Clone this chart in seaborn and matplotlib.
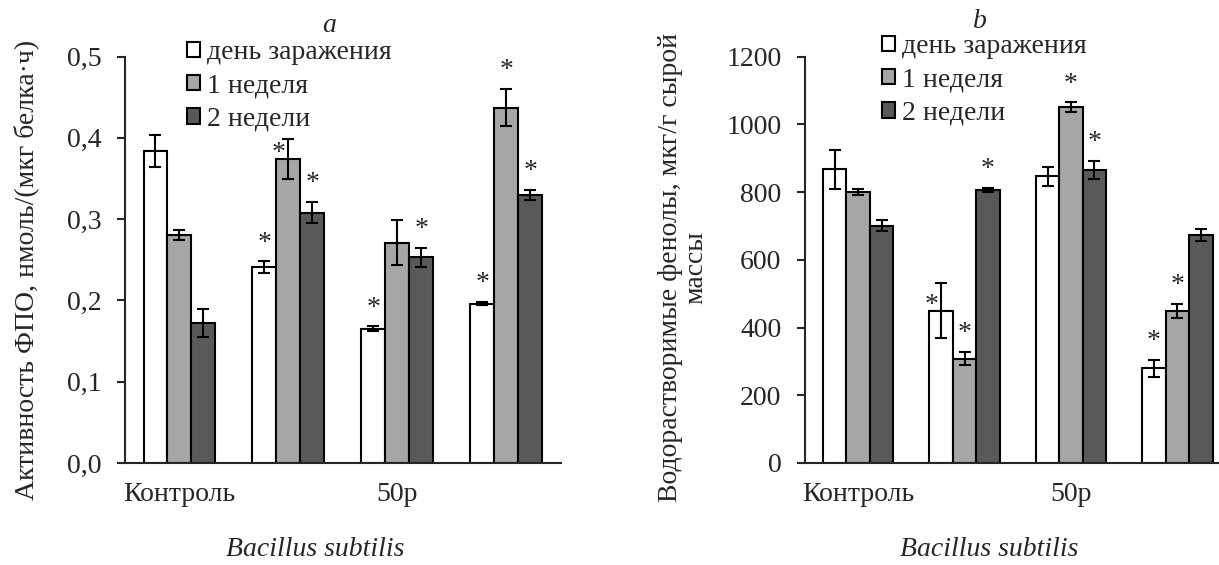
import numpy as np
import pandas as pd
import matplotlib
matplotlib.use("Agg")
import matplotlib.pyplot as plt
import seaborn as sns

# data
groups = ["g1", "g2", "g3", "g4"]
tick_labels = ["Контроль", "", "50р", ""]
periods = ["день заражения", "1 неделя", "2 недели"]

# panel a: activity (нмоль/(мкг белка·ч))
a_day0 = [0.384, 0.241, 0.165, 0.196]
a_week1 = [0.280, 0.374, 0.271, 0.437]
a_week2 = [0.172, 0.308, 0.253, 0.330]
a_err_day0 = [0.020, 0.007, 0.003, 0.002]
a_err_week1 = [0.006, 0.025, 0.028, 0.023]
a_err_week2 = [0.017, 0.013, 0.012, 0.006]
a_star_day0 = [False, True, True, True]
a_star_week1 = [False, True, False, True]
a_star_week2 = [False, True, True, True]

# panel b: phenols (мкг/г сырой массы)
b_day0 = [867, 450, 846, 280]
b_week1 = [800, 308, 1050, 449]
b_week2 = [701, 806, 865, 674]
b_err_day0 = [58, 81, 27, 25]
b_err_week1 = [8, 20, 15, 21]
b_err_week2 = [15, 7, 27, 18]
b_star_day0 = [False, True, False, True]
b_star_week1 = [False, True, True, True]
b_star_week2 = [False, True, True, False]

colors = ["#FFFFFF", "#A6A6A6", "#595959"]
FS = 20

sns.set_style("white")
plt.rcParams["font.family"] = ["Liberation Serif", "DejaVu Serif"]
plt.rcParams["font.size"] = FS

W, H = 1219, 565
fig = plt.figure(figsize=(W / 100, H / 100), dpi=100)


def make_df(v0, v1, v2):
    return pd.DataFrame({
        "group": groups * 3,
        "period": [periods[0]] * 4 + [periods[1]] * 4 + [periods[2]] * 4,
        "value": list(v0) + list(v1) + list(v2),
    })


def panel(ax, df, errs, stars, beside, ylim, yticks, fmt):
    sns.barplot(data=df, x="group", y="value", hue="period", hue_order=periods,
                order=groups, palette=colors, edgecolor="black", linewidth=1.5,
                width=0.66, gap=0, errorbar=None, ax=ax)
    handles, labels = ax.get_legend_handles_labels()
    ax.get_legend().remove()
    for k, (cont, err, st) in enumerate(zip(ax.containers, errs, stars)):
        xs = [p.get_x() + p.get_width() / 2 for p in cont.patches]
        ys = [p.get_height() for p in cont.patches]
        ax.errorbar(xs, ys, yerr=err, fmt="none", ecolor="black",
                    elinewidth=1.5, capsize=4.5, capthick=1.5, zorder=5)
        for j, (p, e, s) in enumerate(zip(cont.patches, err, st)):
            if not s:
                continue
            if (k, j) in beside:
                # star squeezed next to a long error bar
                ax.annotate("*", (p.get_x(), p.get_height()), xytext=(1.5, -5),
                            textcoords="offset points", ha="center", va="bottom",
                            fontsize=FS, zorder=6)
            else:
                ax.annotate("*", (xs[j], ys[j] + e), xytext=(0, 4),
                            textcoords="offset points", ha="center", va="bottom",
                            fontsize=FS, zorder=6)
    ax.set_ylim(*ylim)
    ax.set_yticks(yticks)
    ax.set_yticklabels([fmt(t) for t in yticks])
    ax.set_xlim(-0.5, 3.5)
    ax.set_xticks(range(4))
    ax.set_xticklabels(tick_labels)
    ax.set_xlabel("")
    ax.set_ylabel("")
    sns.despine(ax=ax)
    ax.spines["left"].set_linewidth(1.5)
    ax.spines["bottom"].set_linewidth(1.5)
    ax.tick_params(axis="y", direction="out", length=6, width=1.5, left=True, pad=11)
    ax.tick_params(axis="x", length=0, pad=14)
    return handles, labels


def legend(h, l, x, y):
    lg = fig.legend(h, l, loc="center left", bbox_to_anchor=(x / W, 1 - y / H),
                    frameon=False, fontsize=FS, handlelength=0.47, handleheight=0.47,
                    handletextpad=0.25, labelspacing=0.3, borderaxespad=0, borderpad=0)
    for p in lg.get_patches():
        p.set_edgecolor("black")
        p.set_linewidth(1.5)


bottom = 1 - 463 / H
top = 1 - 56.5 / H

ax_a = fig.add_axes([125 / W, bottom, 435.6 / W, top - bottom])
h, l = panel(ax_a, make_df(a_day0, a_week1, a_week2),
             [a_err_day0, a_err_week1, a_err_week2],
             [a_star_day0, a_star_week1, a_star_week2], {(1, 1)},
             (0, 0.5), np.arange(0, 0.51, 0.1), lambda t: f"{t:.1f}".replace(".", ","))
legend(h, l, 187, 86)

ax_b = fig.add_axes([805 / W, bottom, 425.6 / W, top - bottom])
h, l = panel(ax_b, make_df(b_day0, b_week1, b_week2),
             [b_err_day0, b_err_week1, b_err_week2],
             [b_star_day0, b_star_week1, b_star_week2], {(0, 1)},
             (0, 1200), np.arange(0, 1201, 200), lambda t: f"{int(t)}")
legend(h, l, 882, 80)

fig.text(329 / W, 1 - 25 / H, "a", style="italic", ha="center", va="center", fontsize=FS)
fig.text(980 / W, 1 - 22 / H, "b", style="italic", ha="center", va="center", fontsize=FS)

fig.text(26 / W, 1 - 270 / H, "Активность ФПО, нмоль/(мкг белка·ч)", rotation=90,
         ha="center", va="center", fontsize=FS)
fig.text(683 / W, 1 - 267 / H, "Водорастворимые фенолы, мкг/г сырой\nмассы", rotation=90,
         ha="center", va="center", multialignment="center", fontsize=FS, linespacing=1.0)

fig.text(315 / W, 1 - 550 / H, "Bacillus subtilis", style="italic", ha="center", va="center",
         fontsize=FS)
fig.text(989 / W, 1 - 550 / H, "Bacillus subtilis", style="italic", ha="center", va="center",
         fontsize=FS)

fig.savefig("out.png", dpi=100)
